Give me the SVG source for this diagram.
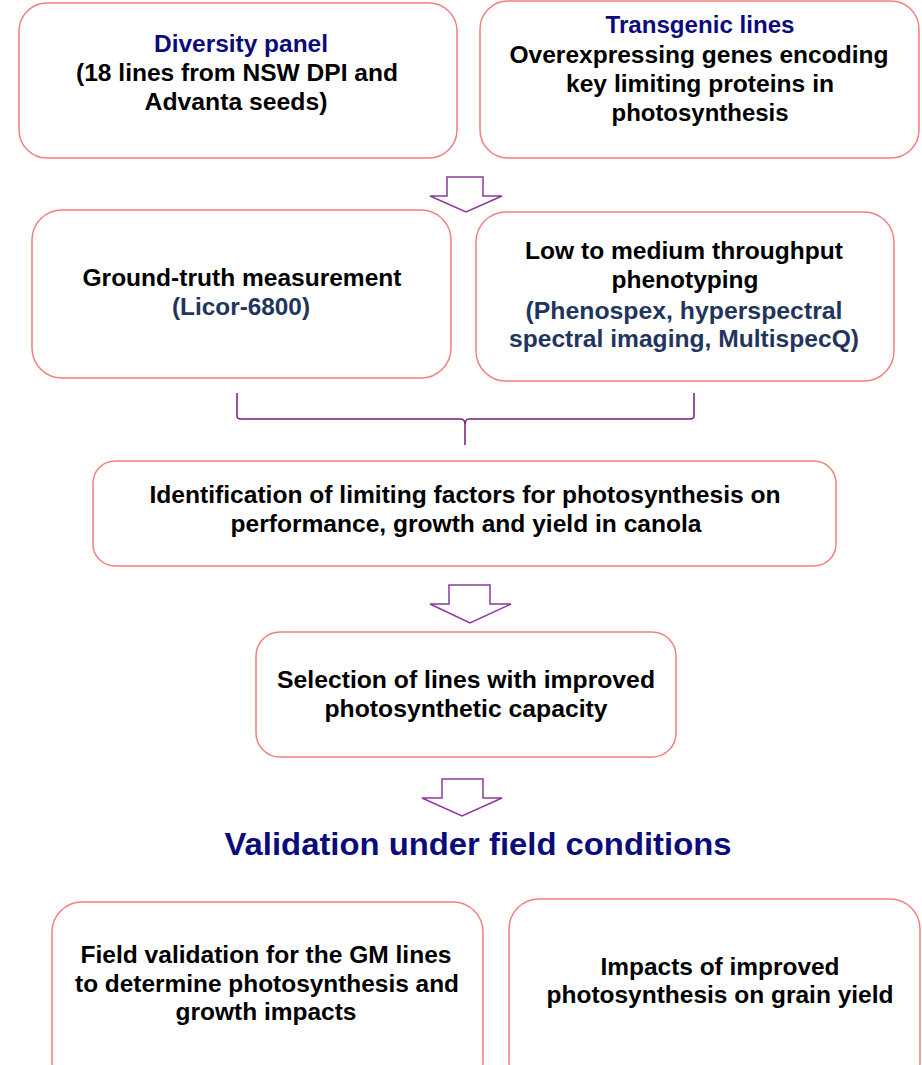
<svg xmlns="http://www.w3.org/2000/svg" width="922" height="1065" viewBox="0 0 922 1065">
<style>
.box{fill:#fff;stroke:#f47f7f;stroke-width:1.5}
.t{font-family:"Liberation Sans",Arial,sans-serif;font-weight:bold;font-size:23px;fill:#000;text-anchor:middle}
.nv{fill:#0b0b7c}
.sl{fill:#1f3560}
.arr{fill:#fff;stroke:#8a3a9a;stroke-width:1.5;stroke-linejoin:miter}
.brace{fill:none;stroke:#7a1a7e;stroke-width:1.5}
</style>
<rect width="922" height="1065" fill="#fff"/>
<g id="connectors">
<path class="arr" d="M447,177 H483 V196 H502 L466,212 L430,196 H447 Z"/>
<path class="brace" d="M237,393 V416 Q237,419 241,419 H461 Q465,419 465,425 V445 M465,425 Q465,419 469,419 H690 Q694,419 694,416 V393"/>
<path class="arr" d="M449,585 H490 V604 H511 L470,623 L430,604 H449 Z"/>
<path class="arr" d="M442,779 H483 V798 H502 L462,816 L422,798 H442 Z"/>
</g>
<g id="diversity">
<rect class="box" x="19" y="3" width="438" height="155" rx="28"/>
<text class="t nv" x="241" y="52" textLength="174" lengthAdjust="spacingAndGlyphs">Diversity panel</text>
<text class="t" x="237" y="81" textLength="322" lengthAdjust="spacingAndGlyphs">(18 lines from NSW DPI and</text>
<text class="t" x="236" y="110" textLength="183" lengthAdjust="spacingAndGlyphs">Advanta seeds)</text>
</g>
<g id="transgenic">
<rect class="box" x="480" y="1" width="439" height="157" rx="28"/>
<text class="t nv" x="700" y="33" textLength="189" lengthAdjust="spacingAndGlyphs">Transgenic lines</text>
<text class="t" x="699" y="63" textLength="379" lengthAdjust="spacingAndGlyphs">Overexpressing genes encoding</text>
<text class="t" x="700" y="92" textLength="268" lengthAdjust="spacingAndGlyphs">key limiting proteins in</text>
<text class="t" x="700" y="121" textLength="177" lengthAdjust="spacingAndGlyphs">photosynthesis</text>
</g>
<g id="groundtruth">
<rect class="box" x="32" y="210" width="419" height="168" rx="30"/>
<text class="t" x="242" y="286" textLength="319" lengthAdjust="spacingAndGlyphs">Ground-truth measurement</text>
<text class="t sl" x="241" y="315" textLength="138" lengthAdjust="spacingAndGlyphs">(Licor-6800)</text>
</g>
<g id="phenotyping">
<rect class="box" x="476" y="212" width="418" height="169" rx="30"/>
<text class="t" x="684" y="259" textLength="318" lengthAdjust="spacingAndGlyphs">Low to medium throughput</text>
<text class="t" x="685" y="288" textLength="147" lengthAdjust="spacingAndGlyphs">phenotyping</text>
<text class="t sl" x="684" y="319" textLength="317" lengthAdjust="spacingAndGlyphs">(Phenospex, hyperspectral</text>
<text class="t sl" x="684" y="347" textLength="350" lengthAdjust="spacingAndGlyphs">spectral imaging, MultispecQ)</text>
</g>
<g id="identification">
<rect class="box" x="93" y="461" width="743" height="105" rx="22"/>
<text class="t" x="465" y="503" textLength="631" lengthAdjust="spacingAndGlyphs">Identification of limiting factors for photosynthesis on</text>
<text class="t" x="466" y="532" textLength="471" lengthAdjust="spacingAndGlyphs">performance, growth and yield in canola</text>
</g>
<g id="selection">
<rect class="box" x="256" y="632" width="420" height="125" rx="24"/>
<text class="t" x="466" y="688" textLength="378" lengthAdjust="spacingAndGlyphs" style="font-size:24px">Selection of lines with improved</text>
<text class="t" x="466" y="717" textLength="283" lengthAdjust="spacingAndGlyphs" style="font-size:24px">photosynthetic capacity</text>
</g>
<g id="title">
<text class="t nv" x="478" y="855" textLength="507" lengthAdjust="spacingAndGlyphs" style="font-size:31px">Validation under field conditions</text>
</g>
<g id="fieldvalidation">
<rect class="box" x="52" y="902" width="431" height="190" rx="30"/>
<text class="t" x="266" y="963" textLength="371" lengthAdjust="spacingAndGlyphs">Field validation for the GM lines</text>
<text class="t" x="267" y="992" textLength="384" lengthAdjust="spacingAndGlyphs">to determine photosynthesis and</text>
<text class="t" x="266" y="1020" textLength="181" lengthAdjust="spacingAndGlyphs">growth impacts</text>
</g>
<g id="impacts">
<rect class="box" x="509" y="899" width="411" height="193" rx="30"/>
<text class="t" x="720" y="975" textLength="239" lengthAdjust="spacingAndGlyphs">Impacts of improved</text>
<text class="t" x="720" y="1003" textLength="347" lengthAdjust="spacingAndGlyphs">photosynthesis on grain yield</text>
</g>
</svg>
